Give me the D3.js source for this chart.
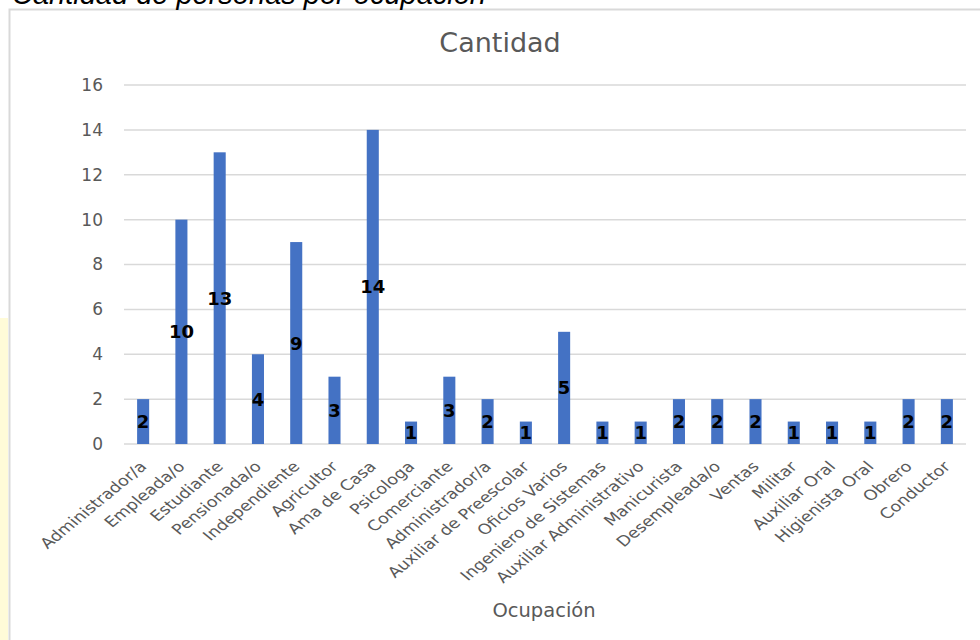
<!DOCTYPE html>
<html><head><meta charset="utf-8">
<script src="https://cdn.jsdelivr.net/npm/d3@7"></script>
<style>body{margin:0;background:#fff;} svg{display:block;}</style>
</head><body>
<svg id="c" width="980" height="640"></svg>
<script>
const categories = ["Administrador/a","Empleada/o","Estudiante","Pensionada/o","Independiente","Agricultor","Ama de Casa","Psicologa","Comerciante","Administrador/a ","Auxiliar de Preescolar","Oficios Varios","Ingeniero de Sistemas","Auxiliar Administrativo","Manicurista","Desempleada/o","Ventas","Militar","Auxiliar Oral","Higienista Oral","Obrero","Conductor"];
const values = [2,10,13,4,9,3,14,1,3,2,1,5,1,1,2,2,2,1,1,1,2,2];
const yTicks = [0,2,4,6,8,10,12,14,16];
const chartTitle = "Cantidad";
const pageTitle = "Cantidad de personas por ocupación";
const xTitle = "Ocupación";

const svg = d3.select("#c");
const font = "'DejaVu Sans', sans-serif";

// left pale yellow strip
svg.append("rect").attr("x",0).attr("y",318).attr("width",8).attr("height",322).attr("fill","#fffbd8");
// chart frame
svg.append("rect").attr("x",9.5).attr("y",9.5).attr("width",1000).attr("height",700)
  .attr("fill","#fff").attr("stroke","#d9d9d9").attr("stroke-width",2);

// page caption (cut off at top)
svg.append("text").attr("x",12).attr("y",4).attr("font-family","'Liberation Sans', Arial, sans-serif")
  .attr("font-style","italic").attr("font-size",29).attr("fill","#000").text(pageTitle);

const x = d3.scaleBand().domain(categories).range([124,966]).paddingInner(0.685).paddingOuter(0.3425);
const y = d3.scaleLinear().domain([0,16]).range([444,85]);

// gridlines
svg.append("g").selectAll("line").data(yTicks).join("line")
  .attr("x1",124).attr("x2",966).attr("y1",d=>y(d)).attr("y2",d=>y(d))
  .attr("stroke","#d9d9d9").attr("stroke-width",1.5);

// y axis labels
const yAxis = d3.axisLeft(y).tickValues(yTicks).tickSize(0).tickPadding(0);
const yg = svg.append("g").attr("transform","translate(103,0)").call(yAxis);
yg.select(".domain").remove();
yg.selectAll("text").attr("font-family",font).attr("font-size",17).attr("fill","#595959");

// bars
svg.append("g").selectAll("rect").data(values).join("rect")
  .attr("x",(d,i)=>x(categories[i])).attr("width",x.bandwidth())
  .attr("y",d=>y(d)).attr("height",d=>y(0)-y(d)).attr("fill","#4472c4");

// data labels
svg.append("g").selectAll("text").data(values).join("text")
  .attr("x",(d,i)=>x(categories[i])+x.bandwidth()/2).attr("y",d=>(y(d)+y(0))/2)
  .attr("dy","0.36em").attr("text-anchor","middle")
  .attr("font-family",font).attr("font-weight","bold").attr("font-size",18)
  .attr("fill","#000").text(d=>d);

// x axis labels
const xAxis = d3.axisBottom(x).tickSize(0).tickPadding(0).tickFormat(d=>d.trim());
const xg = svg.append("g").attr("transform","translate(0,444)").call(xAxis);
xg.select(".domain").remove();
xg.selectAll("text").attr("font-family",font).attr("font-size",14.5).attr("fill","#595959")
  .attr("text-anchor","end").attr("dy",null).attr("y",0)
  .attr("transform","translate(4.5,23.5) scale(1.22,1) rotate(-45)");

// chart title
svg.append("text").attr("x",500).attr("y",52).attr("text-anchor","middle")
  .attr("font-family",font).attr("font-size",27).attr("fill","#595959").text(chartTitle);
// x title
svg.append("text").attr("x",544).attr("y",617).attr("text-anchor","middle")
  .attr("font-family",font).attr("font-size",19.5).attr("fill","#595959").text(xTitle);
</script>
</body></html>
